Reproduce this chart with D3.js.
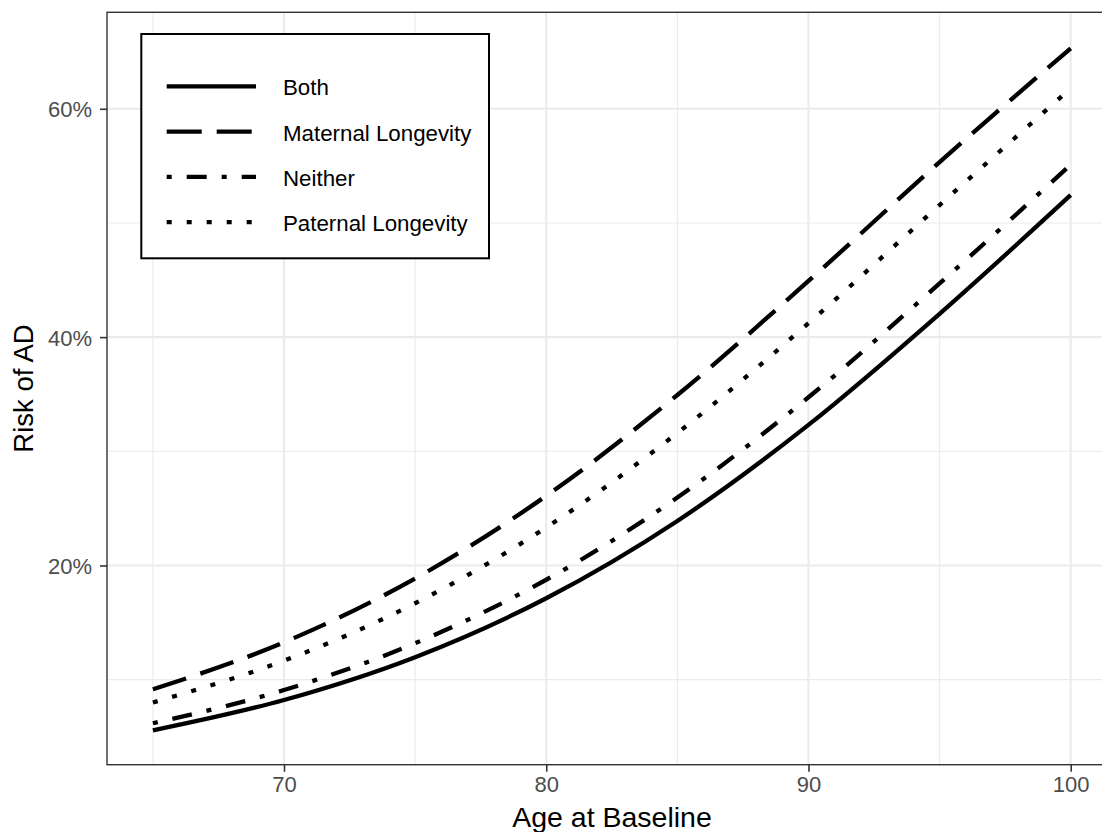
<!DOCTYPE html>
<html>
<head>
<meta charset="utf-8">
<script src="https://cdn.jsdelivr.net/npm/d3@7"></script>
<style>
  html, body { margin: 0; padding: 0; background: #ffffff; }
  svg { display: block; }
  text { font-family: "Liberation Sans", Arial, sans-serif; }
</style>
</head>
<body>
<script>
// ---- data ----
const ages = [65, 70, 75, 80, 85, 90, 95, 100];
const both      = [5.56, 8.22, 11.97, 17.13, 23.90, 32.31, 42.04, 52.44];
const maternal  = [9.15, 13.27, 18.86, 26.10, 34.93, 44.92, 55.33, 65.30];
const neither   = [6.18, 9.09, 13.19, 18.75, 25.95, 34.73, 44.70, 55.11];
const paternal  = [8.00, 11.66, 16.69, 23.33, 31.60, 41.22, 51.57, 61.78];
const seriesNames = ["Both", "Maternal Longevity", "Neither", "Paternal Longevity"];
const xMajorTicks = [70, 80, 90, 100];
const xMinorTicks = [65, 75, 85, 95];
const yMajorTicks = [20, 40, 60];
const yMinorTicks = [10, 30, 50];
const yTickLabels = ["20%", "40%", "60%"];
const xTitle = "Age at Baseline";
const yTitle = "Risk of AD";

// ---- layout / style ----
const W = 1102, H = 832;
const panel = { left: 107, top: 12.3, right: 1116.6, bottom: 764.7 };
const dashes = {
  "Both": null,
  "Maternal Longevity": "35,15",
  "Neither": "5,15,20,15",
  "Paternal Longevity": "5,15"
};
const seriesValues = [both, maternal, neither, paternal];

const svg = d3.select("body").append("svg").attr("width", W).attr("height", H);

const x = d3.scaleLinear().domain([63.25, 101.75]).range([panel.left, panel.right]);
const y = d3.scaleLinear().domain([2.55, 68.45]).range([panel.bottom, panel.top]);

svg.append("rect").attr("x", 0).attr("y", 0).attr("width", W).attr("height", H).attr("fill", "#ffffff");

svg.append("clipPath").attr("id", "pclip").append("rect")
  .attr("x", panel.left).attr("y", panel.top)
  .attr("width", panel.right - panel.left).attr("height", panel.bottom - panel.top);

const grid = svg.append("g");
// minor grid
grid.selectAll("line.xmin").data(xMinorTicks).enter().append("line")
  .attr("x1", d => x(d)).attr("x2", d => x(d)).attr("y1", panel.top).attr("y2", panel.bottom)
  .attr("stroke", "#EBEBEB").attr("stroke-width", 1.1);
grid.selectAll("line.ymin").data(yMinorTicks).enter().append("line")
  .attr("y1", d => y(d)).attr("y2", d => y(d)).attr("x1", panel.left).attr("x2", panel.right)
  .attr("stroke", "#EBEBEB").attr("stroke-width", 1.1);
// major grid
grid.selectAll("line.xmaj").data(xMajorTicks).enter().append("line")
  .attr("x1", d => x(d)).attr("x2", d => x(d)).attr("y1", panel.top).attr("y2", panel.bottom)
  .attr("stroke", "#EBEBEB").attr("stroke-width", 2.1);
grid.selectAll("line.ymaj").data(yMajorTicks).enter().append("line")
  .attr("y1", d => y(d)).attr("y2", d => y(d)).attr("x1", panel.left).attr("x2", panel.right)
  .attr("stroke", "#EBEBEB").attr("stroke-width", 2.1);

// data lines
const line = d3.line().x(d => x(d[0])).y(d => y(d[1])).curve(d3.curveMonotoneX);
const lines = svg.append("g").attr("clip-path", "url(#pclip)");
seriesNames.forEach((name, i) => {
  const pts = ages.map((a, j) => [a, seriesValues[i][j]]);
  lines.append("path").datum(pts)
    .attr("d", line)
    .attr("fill", "none")
    .attr("stroke", "#000000")
    .attr("stroke-width", 4.3)
    .attr("stroke-linecap", "butt")
    .attr("stroke-linejoin", "round")
    .attr("stroke-dasharray", dashes[name]);
});

// panel border
svg.append("rect")
  .attr("x", panel.left).attr("y", panel.top)
  .attr("width", panel.right - panel.left).attr("height", panel.bottom - panel.top)
  .attr("fill", "none").attr("stroke", "#333333").attr("stroke-width", 1.4);

// x axis
const xAxis = d3.axisBottom(x).tickValues(xMajorTicks).tickSize(7).tickPadding(5).tickSizeOuter(0);
const gx = svg.append("g").attr("transform", `translate(0,${panel.bottom})`).call(xAxis);
gx.select(".domain").remove();
gx.selectAll(".tick line").attr("stroke", "#333333").attr("stroke-width", 1.6);
gx.selectAll(".tick text").attr("fill", "#4D4D4D").attr("font-size", 22)
  .attr("font-family", "'Liberation Sans', Arial, sans-serif").attr("dy", "0.75em").attr("y", 10.5);

// y axis
const yAxis = d3.axisLeft(y).tickValues(yMajorTicks)
  .tickFormat((d, i) => yTickLabels[i]).tickSize(7).tickPadding(6).tickSizeOuter(0);
const gy = svg.append("g").attr("transform", `translate(${panel.left},0)`).call(yAxis);
gy.select(".domain").remove();
gy.selectAll(".tick line").attr("stroke", "#333333").attr("stroke-width", 1.6);
gy.selectAll(".tick text").attr("fill", "#4D4D4D").attr("font-size", 22)
  .attr("font-family", "'Liberation Sans', Arial, sans-serif").attr("x", -15).attr("dy", "0.36em");

// axis titles
svg.append("text").attr("x", 612).attr("y", 827).attr("text-anchor", "middle")
  .attr("font-size", 28.5).attr("fill", "#000000").text(xTitle);
svg.append("text").attr("transform", `translate(33,${(panel.top + panel.bottom) / 2}) rotate(-90)`)
  .attr("text-anchor", "middle").attr("font-size", 27.5).attr("fill", "#000000").text(yTitle);

// legend
const lg = svg.append("g");
lg.append("rect").attr("x", 141.3).attr("y", 34).attr("width", 347.7).attr("height", 224.3)
  .attr("fill", "#ffffff").attr("stroke", "#000000").attr("stroke-width", 2);
const rowY = [86.3, 131.6, 176.9, 222.2];
seriesNames.forEach((name, i) => {
  lg.append("line").attr("x1", 166.7).attr("x2", 256).attr("y1", rowY[i]).attr("y2", rowY[i])
    .attr("stroke", "#000000").attr("stroke-width", 4.3).attr("stroke-linecap", "butt")
    .attr("stroke-dasharray", dashes[name]);
  lg.append("text").attr("x", 283).attr("y", rowY[i] + 9).attr("font-size", 22.3)
    .attr("fill", "#000000").text(name);
});
</script>
</body>
</html>
